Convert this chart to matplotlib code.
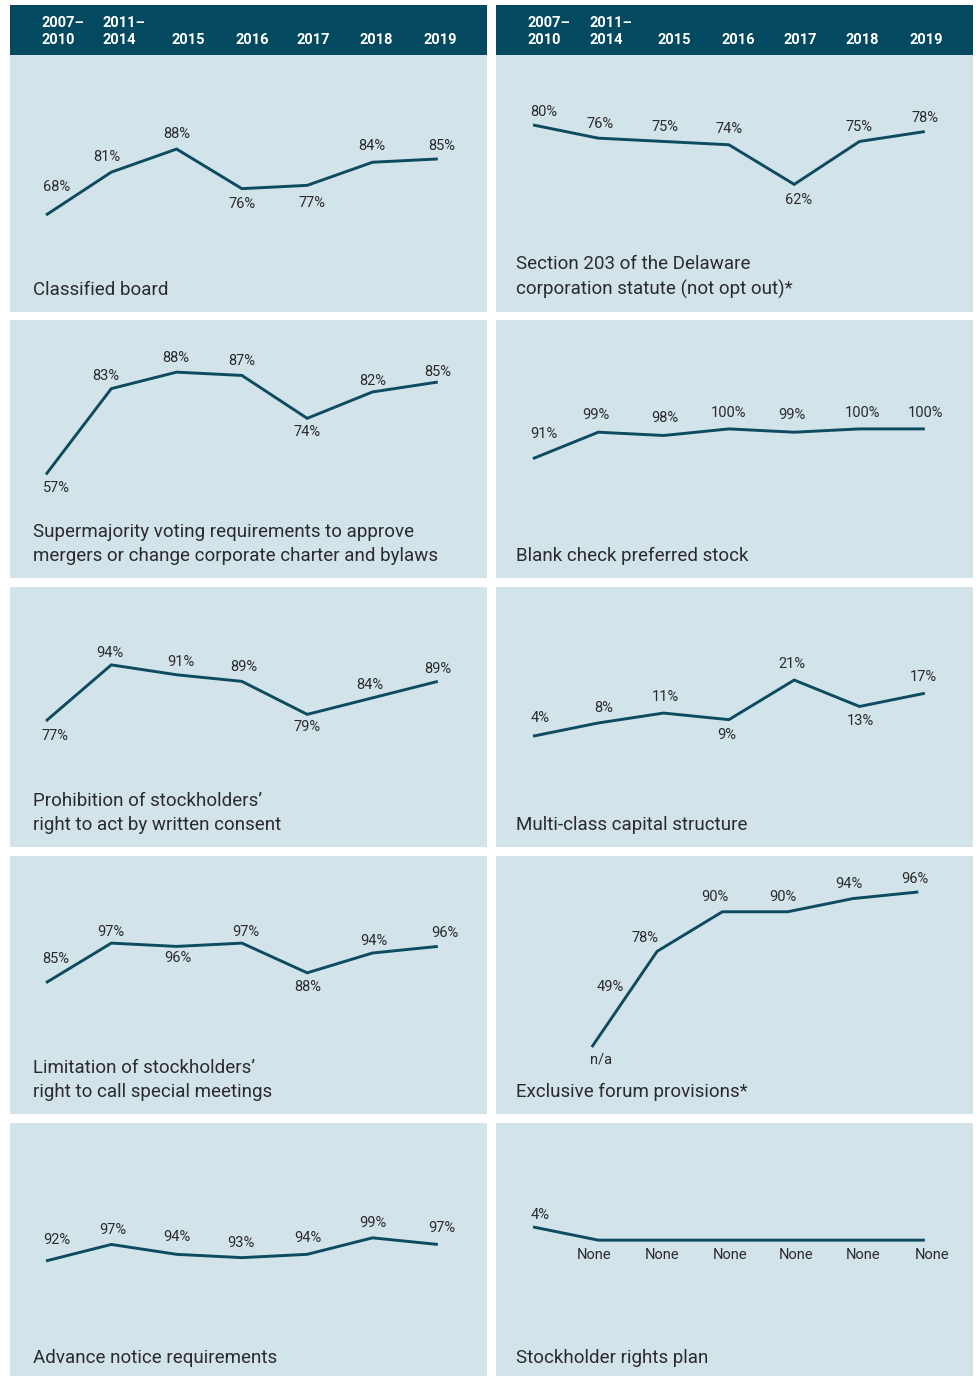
import matplotlib.pyplot as plt

# --- data ---
years = ["2007–\n2010", "2011–\n2014", "2015", "2016", "2017", "2018", "2019"]

classified_board = [68, 81, 88, 76, 77, 84, 85]
supermajority = [57, 83, 88, 87, 74, 82, 85]
written_consent = [77, 94, 91, 89, 79, 84, 89]
special_meetings = [85, 97, 96, 97, 88, 94, 96]
advance_notice = [92, 97, 94, 93, 94, 99, 97]

section_203 = [80, 76, 75, 74, 62, 75, 78]
blank_check = [91, 99, 98, 100, 99, 100, 100]
multi_class = [4, 8, 11, 9, 21, 13, 17]
exclusive_forum = [None, 49, 78, 90, 90, 94, 96]
rights_plan = [4, 0, 0, 0, 0, 0, 0]

titles_left = [
    "Classified board",
    "Supermajority voting requirements to approve\nmergers or change corporate charter and bylaws",
    "Prohibition of stockholders’\nright to act by written consent",
    "Limitation of stockholders’\nright to call special meetings",
    "Advance notice requirements",
]
titles_right = [
    "Section 203 of the Delaware\ncorporation statute (not opt out)*",
    "Blank check preferred stock",
    "Multi-class capital structure",
    "Exclusive forum provisions*",
    "Stockholder rights plan",
]

# --- layout (pixels) ---
W, H = 976, 1376
HEADER = (5, 55)
ROWS = [(55, 312), (320, 578), (587, 847), (856, 1114), (1123, 1380)]
COLS = [(10, 487), (496, 973)]
PX_PER_PCT = 3.3
PX_PER_STEP = 65.3
FIRST_X = [46, 533]
HEAD_X = [31, 93, 162, 226, 287, 350, 414]  # left edge of header labels from panel edge

# y value at the top of each panel (sets vertical position of each line)
top_left = [116.5, 103.8, 117.6, 123.4, 133.8]
top_right = [101.2, 133.0, 49.2, 106.9, 35.5]

# label offsets in pixels (dx, dy; dy>0 = up)
off_left = [
    [(11, 28), (-4, 15), (0, 15), (0, -15), (5, -18), (-1, 16), (4, 13)],
    [(10, -14), (-5, 13), (-1, 14), (0, 14), (0, -14), (0, 11), (0, 10)],
    [(9, -15), (-1, 12), (4, 13), (2, 14), (0, -13), (-3, 13), (0, 12)],
    [(10, 24), (0, 11), (1, -12), (4, 11), (1, -14), (1, 12), (7, 13)],
    [(11, 21), (2, 14), (0, 17), (-1, 15), (1, 16), (0, 15), (4, 16)],
]
off_right = [
    [(11, 13), (2, 14), (1, 14), (0, 16), (4, -16), (-1, 14), (0, 14)],
    [(11, 25), (-2, 17), (1, 17), (0, 16), (-2, 17), (3, 16), (1, 16)],
    [(7, 18), (5, 15), (2, 16), (-2, -15), (-2, 16), (1, -15), (-1, 16)],
    [(9, -12), (18, 60), (-12, 13), (-7, 15), (-5, 15), (-4, 15), (-3, 13)],
    [(7, 12), (-4, -15), (-2, -15), (1, -15), (2, -15), (4, -15), (7, -15)],
]

DARK = "#03495f"
PANEL = "#d3e3ea"
LINE = "#0c4b60"
TEXT = "#2b2b2b"
FONT = ["Roboto", "DejaVu Sans"]

plt.rcParams["font.family"] = FONT

fig = plt.figure(figsize=(W / 100, H / 100), dpi=100)
fig.patch.set_facecolor("white")


def px_axes(x0, x1, y0, y1):
    return fig.add_axes([x0 / W, 1 - y1 / H, (x1 - x0) / W, (y1 - y0) / H])


def fmt(v, panel_has_none):
    if v is None:
        return "n/a"
    if v == 0 and panel_has_none:
        return "None"
    return f"{v}%"


def clean(ax):
    ax.set_xticks([])
    ax.set_yticks([])
    for s in ax.spines.values():
        s.set_visible(False)


# header bars
for c, (x0, x1) in enumerate(COLS):
    hx = px_axes(x0, x1, *HEADER)
    hx.set_facecolor(DARK)
    hx.set_xlim(0, x1 - x0)
    hx.set_ylim(0, HEADER[1] - HEADER[0])
    clean(hx)
    for i, yr in enumerate(years):
        hx.text(HEAD_X[i], 7.5, yr, color="white", fontsize=10.5,
                fontweight="bold", ha="left", va="bottom", linespacing=1.35)

series = [
    [classified_board, supermajority, written_consent, special_meetings, advance_notice],
    [section_203, blank_check, multi_class, exclusive_forum, rights_plan],
]
titles = [titles_left, titles_right]
tops = [top_left, top_right]
offs = [off_left, off_right]

for c, (x0, x1) in enumerate(COLS):
    for r, (y0, y1) in enumerate(ROWS):
        ax = px_axes(x0, x1, y0, y1)
        ax.set_facecolor(PANEL)
        ax.set_xlim((x0 - FIRST_X[c]) / PX_PER_STEP, (x1 - FIRST_X[c]) / PX_PER_STEP)
        top = tops[c][r]
        ax.set_ylim(top - (y1 - y0) / PX_PER_PCT, top)
        clean(ax)

        vals = series[c][r]
        shift = -0.1 if None in vals else 0.0
        xs = [i + shift for i, v in enumerate(vals) if v is not None]
        ys = [v for v in vals if v is not None]
        ax.plot(xs, ys, color=LINE, lw=2.1, solid_joinstyle="miter",
                solid_capstyle="butt")

        has_none = c == 1 and r == 4
        for i, v in enumerate(vals):
            if v is None or (None in vals and i == 1):
                ax_x, ax_y = xs[0], ys[0]
            else:
                ax_x, ax_y = i + shift, v
            dx, dy = offs[c][r][i]
            ax.annotate(fmt(v, has_none), (ax_x, ax_y), xytext=(dx, dy),
                        textcoords="offset pixels", ha="center", va="center",
                        fontsize=10.5, color=TEXT)

        ax.text((23 if c == 0 else 20) / (x1 - x0), 13 / (y1 - y0), titles[c][r],
                transform=ax.transAxes, ha="left", va="bottom", fontsize=13.5,
                color=TEXT, linespacing=1.45)

fig.savefig("out.png", dpi=100, facecolor="white")
